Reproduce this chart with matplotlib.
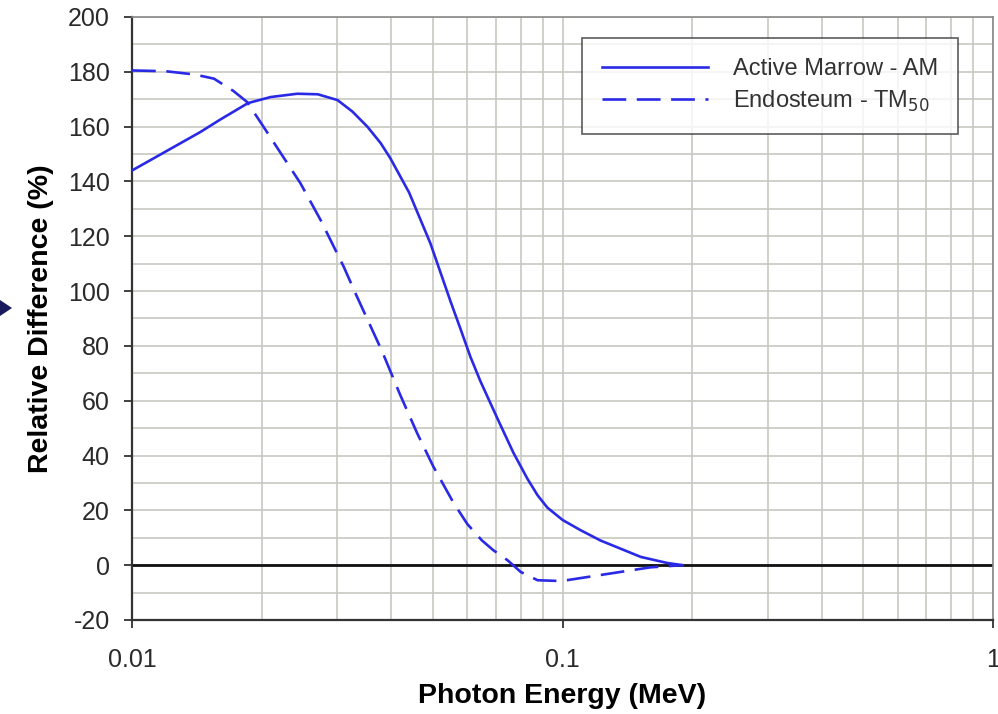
import numpy as np
import matplotlib
matplotlib.use("Agg")
import matplotlib.pyplot as plt
from matplotlib.ticker import FixedLocator, NullFormatter, MultipleLocator
from matplotlib.patches import Polygon

plt.rcParams['font.family'] = ['Liberation Sans', 'DejaVu Sans']
plt.rcParams['axes.unicode_minus'] = False

# Active Marrow - AM (solid)
am_energy = [0.010, 0.012, 0.0144, 0.016, 0.0186, 0.021, 0.0242, 0.027, 0.030,
             0.0325, 0.0352, 0.0378, 0.0398, 0.044, 0.0493, 0.055, 0.058, 0.0611,
             0.0645, 0.0706, 0.0769, 0.0829, 0.0875, 0.0922, 0.1, 0.110, 0.1225,
             0.152, 0.175, 0.19]
am_diff = [144, 151, 158, 162.5, 168.6, 170.8, 172, 171.8, 169.7,
           165.5, 160, 154, 148.5, 136, 117.5, 96, 86, 76,
           67, 53.5, 41, 31.5, 25.5, 21, 16.5, 12.8, 9,
           3, 0.8, 0]

# Endosteum - TM50 (dashed)
tm_energy = [0.010, 0.012, 0.014, 0.0155, 0.0172, 0.0185, 0.020, 0.0218, 0.0246,
             0.0274, 0.031, 0.0333, 0.0381, 0.042, 0.046, 0.0501, 0.0557, 0.0601,
             0.065, 0.069, 0.0745, 0.080, 0.0875, 0.0994, 0.1225, 0.16, 0.19]
tm_diff = [180.5, 180.2, 179, 177.5, 173, 169, 161, 152, 139.4,
           126, 109, 98, 78, 62, 48, 36, 23, 15,
           9, 5.5, 1.8, -2.5, -5.5, -5.8, -3.6, -0.8, 0]

blue = '#2a2ae6'

fig = plt.figure(figsize=(9.98, 7.14), dpi=100)
ax = fig.add_axes([0.1323, 0.1317, 0.8627, 0.8445])

ax.set_xscale('log')
ax.set_xlim(0.01, 1)
ax.set_ylim(-20, 200)

ax.xaxis.set_major_locator(FixedLocator([0.01, 0.1, 1]))
ax.set_xticklabels(['0.01', '0.1', '1'])
minor_x = [m * d for d in (0.01, 0.1) for m in range(2, 10)]
ax.xaxis.set_minor_locator(FixedLocator(minor_x))
ax.xaxis.set_minor_formatter(NullFormatter())
ax.yaxis.set_major_locator(MultipleLocator(20))
ax.yaxis.set_minor_locator(MultipleLocator(10))

ax.grid(True, which='both', color='#c8c8c2', linewidth=1.2)
ax.set_axisbelow(True)
ax.tick_params(axis='both', which='major', direction='out', length=6, width=1.3,
               color='#333333', labelsize=18, labelcolor='#2a2a2a')
ax.tick_params(axis='both', which='minor', length=0)
ax.tick_params(axis='x', pad=14)
ax.tick_params(axis='y', pad=10)

for side in ('left', 'bottom'):
    ax.spines[side].set_color('#333333')
    ax.spines[side].set_linewidth(1.6)
for side in ('top', 'right'):
    ax.spines[side].set_color('#888888')
    ax.spines[side].set_linewidth(1.2)

ax.axhline(0, color='#111111', linewidth=2.0, zorder=2)

ax.plot(am_energy, am_diff, color=blue, linewidth=1.9, label='Active Marrow - AM',
        zorder=3, solid_joinstyle='round')
ax.plot(tm_energy, tm_diff, color=blue, linewidth=1.9, dashes=(9, 4),
        label='Endosteum - TM$_{50}$', zorder=3)

ax.set_xlabel('Photon Energy (MeV)', fontsize=20.5, fontweight='bold', labelpad=8)
ax.set_ylabel('Relative Difference (%)', fontsize=20.5, fontweight='bold', labelpad=10)

leg = ax.legend(loc='upper right', bbox_to_anchor=(0.9593, 0.965), borderaxespad=0,
                fontsize=17, handlelength=4.5, handletextpad=1.05, frameon=True,
                fancybox=False, borderpad=0.85, labelspacing=0.35,
                labelcolor='#333333')
leg.get_frame().set_edgecolor('#333333')
leg.get_frame().set_linewidth(1.2)

# partial arrow marker on the left edge (display pixels, origin bottom-left)
fig.patches.append(Polygon([[0, 714 - 300], [12, 714 - 308], [0, 714 - 316]],
                           closed=True, transform=None,
                           facecolor='#1a1a5e', edgecolor='none'))

fig.savefig('out.png', dpi=100)
